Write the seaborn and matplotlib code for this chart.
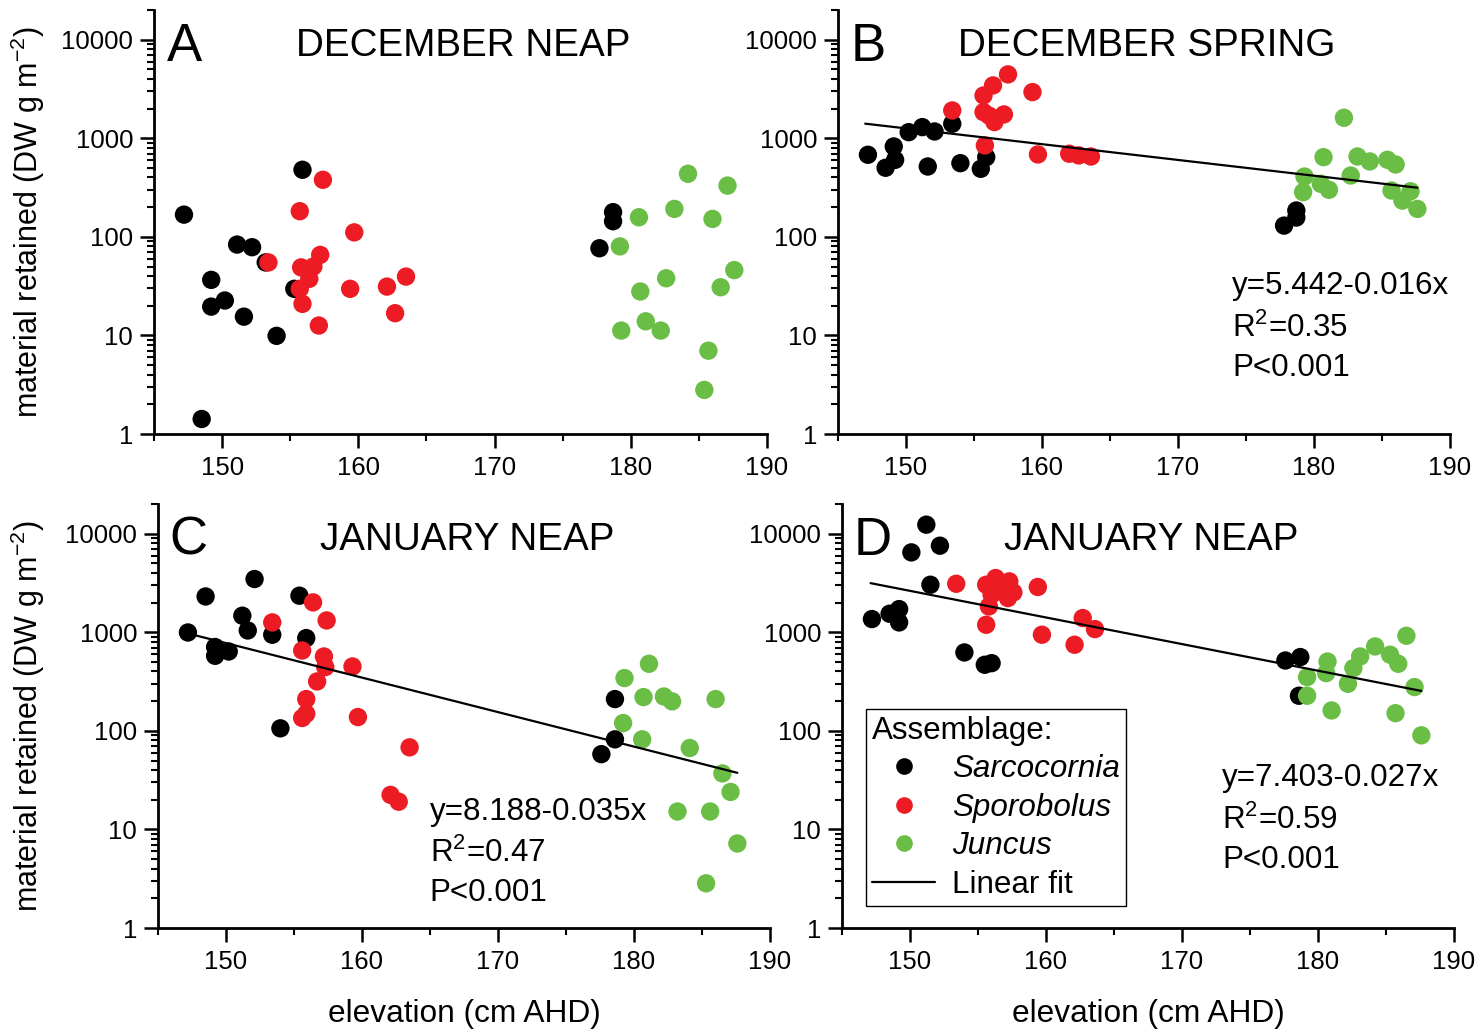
import numpy as np
import pandas as pd
import matplotlib
matplotlib.use("Agg")
import matplotlib.pyplot as plt
from matplotlib.ticker import MultipleLocator, LogLocator, NullFormatter, FixedLocator
from matplotlib.lines import Line2D
import seaborn as sns

sns.set_theme(style="ticks")
plt.rcParams['font.family'] = ['Liberation Sans', 'DejaVu Sans']
plt.rcParams['mathtext.fontset'] = 'custom'
plt.rcParams['mathtext.rm'] = 'Liberation Sans'
plt.rcParams['mathtext.it'] = 'Liberation Sans:italic'
plt.rcParams['text.color'] = 'black'
plt.rcParams['axes.labelcolor'] = 'black'
plt.rcParams['legend.labelcolor'] = 'black'

# ---------------- data (elevation cm AHD, material retained DW g m-2) -------------
A_sarc_x = [155.9, 147.2, 151.1, 152.2, 149.2, 150.2, 149.2, 151.6, 154.0, 148.5, 153.2, 155.3, 178.7, 178.7, 177.7]
A_sarc_y = [479, 168, 83.5, 78.5, 36.6, 22.6, 19.6, 15.5, 9.9, 1.42, 55, 29.7, 178, 144, 76.6]
A_spor_x = [157.4, 155.7, 159.7, 157.2, 153.4, 155.8, 156.7, 156.4, 155.7, 155.9, 157.1, 159.4, 162.1, 163.5, 162.7]
A_spor_y = [379, 182, 111, 65.6, 55, 49, 50, 37.5, 29.7, 20.9, 12.6, 29.7, 31.3, 39.5, 16.8]
A_junc_x = [184.2, 187.1, 183.2, 180.6, 186.0, 179.2, 187.6, 182.6, 186.6, 180.7, 181.1, 179.3, 182.2, 185.7, 185.4]
A_junc_y = [436, 331, 192, 158, 152, 80, 46, 38, 30.8, 27.9, 13.9, 11.2, 11.2, 7.0, 2.8]

B_sarc_x = [147.2, 148.5, 149.2, 149.1, 150.2, 151.2, 152.1, 153.4, 151.6, 154.0, 155.5, 155.9, 178.7, 178.7, 177.8]
B_sarc_y = [680, 502, 604, 826, 1153, 1297, 1172, 1403, 517, 559, 490, 643, 185, 157, 130]
B_spor_x = [153.4, 157.5, 156.4, 155.7, 159.3, 155.7, 157.2, 156.5, 156.1, 155.8, 159.7, 162.0, 162.7, 163.6]
B_spor_y = [1915, 4446, 3436, 2717, 2939, 1840, 1745, 1460, 1700, 845, 685, 697, 670, 653]
B_junc_x = [182.2, 180.7, 183.2, 184.1, 185.4, 186.0, 179.3, 182.7, 180.5, 181.1, 179.2, 185.7, 187.1, 186.5, 187.6]
B_junc_y = [1614, 643, 653, 582, 605, 542, 409, 419, 345, 300, 284, 295, 290, 233, 192]

C_sarc_x = [147.2, 148.5, 152.1, 155.4, 151.2, 151.6, 153.4, 155.9, 149.2, 150.2, 149.2, 154.0, 178.6, 178.6, 177.6]
C_sarc_y = [995, 2307, 3467, 2349, 1472, 1043, 944, 873, 708, 638, 577, 106, 210, 82, 58]
C_spor_x = [153.4, 156.4, 157.4, 155.6, 157.2, 157.3, 159.3, 156.7, 155.9, 155.9, 155.6, 159.7, 163.5, 162.1, 162.7]
C_spor_y = [1259, 2009, 1318, 653, 568, 443, 450, 317, 210, 149, 135, 138, 68, 22.4, 19.1]
C_junc_x = [181.1, 179.3, 180.7, 182.2, 182.8, 186.0, 179.2, 180.6, 184.1, 186.5, 187.1, 183.2, 185.6, 187.6, 185.3]
C_junc_y = [479, 343, 220, 223, 199, 210, 120, 82, 67, 37, 24, 15.2, 15.2, 7.2, 2.84]

D_sarc_x = [151.2, 150.1, 152.2, 151.5, 147.2, 148.5, 149.2, 149.2, 154.0, 155.5, 156.0, 177.6, 178.7, 178.6]
D_sarc_y = [12340, 6460, 7550, 3034, 1361, 1541, 1718, 1258, 624, 468, 486, 517, 560, 227]
D_spor_x = [153.4, 156.3, 155.6, 157.3, 156.6, 157.6, 157.2, 156.0, 159.4, 155.8, 155.6, 159.7, 162.1, 162.7, 163.6]
D_spor_y = [3105, 3548, 3034, 3283, 2699, 2535, 2222, 2403, 2880, 1828, 1191, 944, 747, 1393, 1077]
D_junc_x = [186.5, 184.2, 183.1, 185.3, 185.9, 180.7, 182.6, 180.6, 179.2, 182.2, 187.1, 179.2, 181.0, 185.7, 187.6]
D_junc_y = [921, 718, 568, 592, 479, 505, 433, 385, 351, 300, 278, 227, 161, 151, 90]

assemblages = ["Sarcocornia", "Sporobolus", "Juncus"]
colors = ["#000000", "#ED1C24", "#6ABD45"]

panel_letters = ["A", "B", "C", "D"]
panel_titles = ["DECEMBER NEAP", "DECEMBER SPRING", "JANUARY NEAP", "JANUARY NEAP"]

# linear fits on log10(y): (intercept, slope, x_start, x_end)
fit_B = (5.50, -0.016, 147.0, 187.6)
fit_C = (8.14, -0.035, 147.2, 187.6)
fit_D = (7.47, -0.027, 147.1, 187.6)
fit_text_B = ["y=5.442-0.016x", "R$^2$=0.35", "P<0.001"]
fit_text_C = ["y=8.188-0.035x", "R$^2$=0.47", "P<0.001"]
fit_text_D = ["y=7.403-0.027x", "R$^2$=0.59", "P<0.001"]

xticks = [150, 160, 170, 180, 190]
yticks = [1, 10, 100, 1000, 10000]
ytick_labels = ["1", "10", "100", "1000", "10000"]

# ----------------------------------------------------------------------------------
def frame(sx, sy, px, py, jx, jy):
    return pd.DataFrame({
        "x": sx + px + jx,
        "y": sy + py + jy,
        "g": [assemblages[0]] * len(sx) + [assemblages[1]] * len(px) + [assemblages[2]] * len(jx),
    })

panels = [
    frame(A_sarc_x, A_sarc_y, A_spor_x, A_spor_y, A_junc_x, A_junc_y),
    frame(B_sarc_x, B_sarc_y, B_spor_x, B_spor_y, B_junc_x, B_junc_y),
    frame(C_sarc_x, C_sarc_y, C_spor_x, C_spor_y, C_junc_x, C_junc_y),
    frame(D_sarc_x, D_sarc_y, D_spor_x, D_spor_y, D_junc_x, D_junc_y),
]
fits = [None, fit_B, fit_C, fit_D]
fit_texts = [None, fit_text_B, fit_text_C, fit_text_D]

W, H = 1480, 1032
fig = plt.figure(figsize=(W / 100, H / 100), dpi=100)
rects = [
    (154 / W, 1 - 434 / H, 613 / W, 424 / H),
    (838 / W, 1 - 434 / H, 612 / W, 424 / H),
    (158 / W, 1 - 928 / H, 612 / W, 424 / H),
    (842 / W, 1 - 928 / H, 612 / W, 424 / H),
]
text_pos = [None,
            (0.644, [0.349, 0.250, 0.156]),
            (0.444, [0.274, 0.175, 0.083]),
            (0.621, [0.354, 0.255, 0.160])]
palette = dict(zip(assemblages, colors))

for i, (df, rect) in enumerate(zip(panels, rects)):
    ax = fig.add_axes(rect)
    sns.scatterplot(data=df, x="x", y="y", hue="g", palette=palette, s=175,
                    edgecolor="none", linewidth=0, legend=False, ax=ax, zorder=3)
    ax.set_yscale("log")
    ax.set_xlim(145, 190)
    ax.set_ylim(1, 20000)
    ax.set_xticks(xticks)
    ax.set_xticklabels([str(t) for t in xticks])
    ax.xaxis.set_minor_locator(MultipleLocator(5))
    ax.yaxis.set_major_locator(FixedLocator(yticks))
    ax.set_yticklabels(ytick_labels)
    ax.yaxis.set_minor_locator(LogLocator(base=10, subs=np.arange(2, 10)))
    ax.yaxis.set_minor_formatter(NullFormatter())
    for s in ["top", "right"]:
        ax.spines[s].set_visible(False)
    for s in ["left", "bottom"]:
        ax.spines[s].set_linewidth(2.0)
        ax.spines[s].set_color("black")
    ax.tick_params(which="major", direction="out", length=10, width=1.8, colors="black",
                   labelsize=18.5)
    ax.tick_params(which="minor", direction="out", length=5, width=1.5, colors="black")
    ax.tick_params(axis="y", which="major", pad=5)
    ax.tick_params(axis="x", which="major", pad=6)
    ax.set_facecolor("white")
    ax.grid(False)

    if i in (0, 2):
        ax.set_ylabel("material retained (DW g m$^{-2}$)", fontsize=22)
        ax.yaxis.set_label_coords(-0.175 if i == 0 else -0.182, 0.5)
    else:
        ax.set_ylabel("")
    if i in (2, 3):
        ax.set_xlabel("elevation (cm AHD)", fontsize=22.8)
        ax.xaxis.set_label_coords(0.5, -0.168)
    else:
        ax.set_xlabel("")

    ax.text(0.05, 0.913, panel_letters[i], transform=ax.transAxes, fontsize=38,
            ha="center", va="center")
    ax.text(0.505, 0.915, panel_titles[i], transform=ax.transAxes, fontsize=27.8,
            ha="center", va="center")

    if fits[i] is not None:
        a, b, x0, x1 = fits[i]
        xs = np.array([x0, x1])
        ax.plot(xs, 10 ** (a + b * xs), color="black", lw=1.6, zorder=4)
        tx, tys = text_pos[i]
        for line, ty in zip(fit_texts[i], tys):
            ax.text(tx, ty, line, transform=ax.transAxes, fontsize=22.6,
                    ha="left", va="center")

    if i == 3:
        handles = [Line2D([], [], marker="o", linestyle="none", markersize=12,
                          markerfacecolor=c, markeredgecolor="none") for c in colors]
        handles.append(Line2D([], [], color="black", lw=1.6))
        labels = assemblages + ["Linear fit"]
        leg = ax.legend(handles, labels, title="Assemblage:", loc="lower left",
                        bbox_to_anchor=(0.039, 0.052), borderaxespad=0,
                        frameon=True, fancybox=False, framealpha=1,
                        edgecolor="black", fontsize=22.6, title_fontsize=22.6,
                        handlelength=2.0, handletextpad=0.55, labelspacing=0.27,
                        borderpad=0.2, alignment="left")
        leg.get_frame().set_linewidth(1.0)
        leg.get_title().set_color("black")
        for t in leg.get_texts():
            t.set_color("black")
        for t in leg.get_texts()[:3]:
            t.set_fontstyle("italic")

fig.savefig("out.png", dpi=100, facecolor="white")
